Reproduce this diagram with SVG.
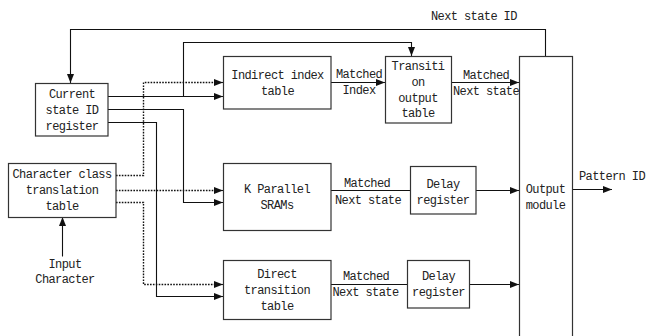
<svg xmlns="http://www.w3.org/2000/svg" width="646" height="336" viewBox="0 0 646 336">
  <style>
    .box { fill: #fff; stroke: #333; stroke-width: 1.2; }
    .wire { fill: none; stroke: #111; stroke-width: 1.1; }
    .dot { fill: none; stroke: #111; stroke-width: 1.4; stroke-dasharray: 1.6 1.3; }
    text { font-family: "Liberation Mono", "DejaVu Sans Mono", monospace; font-size: 12px; letter-spacing: -0.6px; fill: #222; }
    .c { text-anchor: middle; }
  </style>
  <defs>
    <marker id="arrow" markerUnits="userSpaceOnUse" markerWidth="10" markerHeight="8" refX="9" refY="3.5" orient="auto">
      <path d="M0,0 L9,3.5 L0,7 z" fill="#111"/>
    </marker>
  </defs>

  <rect width="646" height="336" fill="#fff"/>

  <!-- connectors -->
  <g id="connectors">
    <path class="wire" d="M545.5,56 V29.5 H70.5 V83" marker-end="url(#arrow)"/>
    <path class="wire" d="M183.5,96.5 V42.5 H411.5 V56" marker-end="url(#arrow)"/>
    <path class="wire" d="M108,96.5 H223" marker-end="url(#arrow)"/>
    <path class="wire" d="M108,109.5 H183.5 V202.5 H223" marker-end="url(#arrow)"/>
    <path class="wire" d="M108,122.5 H156.5 V296.5 H223" marker-end="url(#arrow)"/>
    <path class="dot" d="M116,175.5 H143.5 V82.5 H218"/>
    <path class="wire" d="M216,82.5 H223" marker-end="url(#arrow)"/>
    <path class="dot" d="M116,190.5 H218"/>
    <path class="wire" d="M216,190.5 H223" marker-end="url(#arrow)"/>
    <path class="dot" d="M116,202.5 H143.5 V284.5 H218"/>
    <path class="wire" d="M216,284.5 H223" marker-end="url(#arrow)"/>
    <path class="wire" d="M62.5,256.5 V217" marker-end="url(#arrow)"/>
    <path class="wire" d="M331,82.5 H385" marker-end="url(#arrow)"/>
    <path class="wire" d="M452,82.5 H519" marker-end="url(#arrow)"/>
    <path class="wire" d="M331,190.5 H410"/>
    <path class="wire" d="M476,190.5 H519" marker-end="url(#arrow)"/>
    <path class="wire" d="M331,284.5 H407"/>
    <path class="wire" d="M469,284.5 H519" marker-end="url(#arrow)"/>
    <path class="wire" d="M572,189.5 H612" marker-end="url(#arrow)"/>
  </g>

  <!-- connector labels -->
  <g id="labels">
    <text x="431" y="20">Next state ID</text>
    <text class="c" x="359" y="78">Matched</text>
    <text class="c" x="359" y="93.5">Index</text>
    <text class="c" x="486" y="79">Matched</text>
    <text class="c" x="486" y="95">Next state</text>
    <text class="c" x="367" y="187">Matched</text>
    <text class="c" x="368" y="203.5">Next state</text>
    <text class="c" x="366" y="280">Matched</text>
    <text class="c" x="365.5" y="296">Next state</text>
    <text x="579" y="180">Pattern ID</text>
    <text class="c" x="65" y="267.5">Input</text>
    <text class="c" x="65" y="282.5">Character</text>
  </g>

  <g id="current-state">
    <rect class="box" x="35.5" y="83.5" width="72.5" height="52.5"/>
    <text class="c" x="72" y="98">Current</text>
    <text class="c" x="72" y="114">state ID</text>
    <text class="c" x="72" y="130">register</text>
  </g>

  <g id="char-class">
    <rect class="box" x="8.5" y="163.5" width="107.5" height="54"/>
    <text class="c" x="62" y="178">Character class</text>
    <text class="c" x="62" y="194">translation</text>
    <text class="c" x="62" y="210">table</text>
  </g>

  <g id="indirect-index">
    <rect class="box" x="223.5" y="56.5" width="107.5" height="52.5"/>
    <text class="c" x="277.5" y="79">Indirect index</text>
    <text class="c" x="277.5" y="95">table</text>
  </g>

  <g id="k-parallel">
    <rect class="box" x="223.5" y="163.5" width="107.5" height="67"/>
    <text class="c" x="277" y="192.5">K Parallel</text>
    <text class="c" x="277" y="208.5">SRAMs</text>
  </g>

  <g id="direct-transition">
    <rect class="box" x="223.5" y="260.5" width="107.5" height="59"/>
    <text class="c" x="277" y="278">Direct</text>
    <text class="c" x="277" y="294">transition</text>
    <text class="c" x="277" y="310">table</text>
  </g>

  <g id="transition-output">
    <rect class="box" x="385.5" y="56.5" width="66" height="66.5"/>
    <text class="c" x="418" y="70">Transiti</text>
    <text class="c" x="418" y="86">on</text>
    <text class="c" x="418" y="101.5">output</text>
    <text class="c" x="418" y="117">table</text>
  </g>

  <g id="delay-1">
    <rect class="box" x="410.5" y="166.5" width="65.5" height="47.5"/>
    <text class="c" x="443" y="187.5">Delay</text>
    <text class="c" x="443" y="203.5">register</text>
  </g>

  <g id="delay-2">
    <rect class="box" x="407.5" y="260.5" width="62" height="47.5"/>
    <text class="c" x="438.5" y="280">Delay</text>
    <text class="c" x="438.5" y="296">register</text>
  </g>

  <g id="output-module">
    <rect class="box" x="519.5" y="56.5" width="53" height="300"/>
    <text class="c" x="545.5" y="193">Output</text>
    <text class="c" x="545.5" y="208.5">module</text>
  </g>
</svg>
